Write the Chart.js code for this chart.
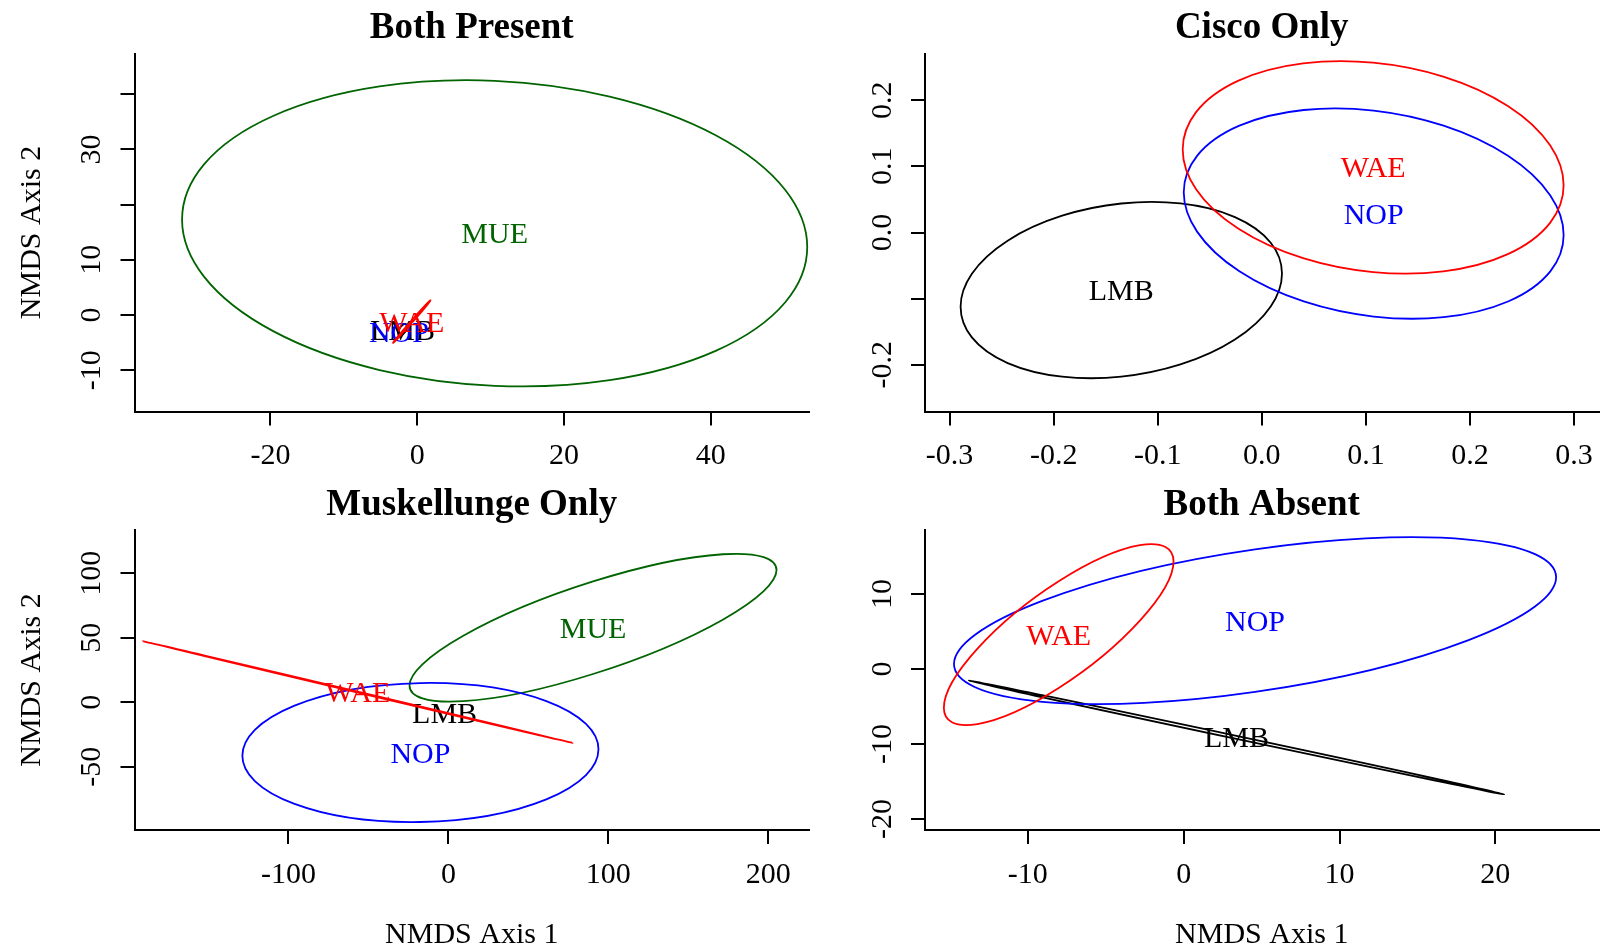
<!DOCTYPE html>
<html lang="en">
<head>
<meta charset="UTF-8" />
<title>NMDS ellipses by lake type</title>
<script src="https://cdn.jsdelivr.net/npm/chart.js"></script>
<style>
  body { margin: 0; background: #fff; }
  #wrap { position: relative; width: 1600px; height: 949px; overflow: hidden; background: #fff; }
  canvas { position: absolute; }
</style>
</head>
<body>
<div id="wrap">
  <canvas id="p1" width="812" height="474" style="left:0px;top:0px"></canvas>
  <canvas id="p2" width="788" height="474" style="left:812px;top:0px"></canvas>
  <canvas id="p3" width="812" height="475" style="left:0px;top:474px"></canvas>
  <canvas id="p4" width="788" height="475" style="left:812px;top:474px"></canvas>
</div>
<script>
  // ---- data (ellipse centre, half extents in x / y, correlation) ----

  // Both Present
  const bpSpecies = ["LMB", "MUE", "NOP", "WAE"];
  const bpCenterX = [-2.0, 10.55, -2.5, -0.75];
  const bpCenterY = [-2.7, 14.8, -3.0, -1.2];
  const bpHalfX = [0.6, 42.6, 0, 2.55];
  const bpHalfY = [1.1, 27.75, 0, 3.85];
  const bpCorr = [0.6, -0.09, 0, 0.998];
  const bpXTicks = [-20, 0, 20, 40];
  const bpXLabels = ["-20", "0", "20", "40"];
  const bpYTicks = [-10, 0, 10, 20, 30, 40];
  const bpYLabels = ["-10", "0", "10", "", "30", ""];

  // Cisco Only
  const coSpecies = ["LMB", "NOP", "WAE"];
  const coCenterX = [-0.135, 0.1075, 0.107];
  const coCenterY = [-0.087, 0.0286, 0.0984];
  const coHalfX = [0.1544, 0.1825, 0.183];
  const coHalfY = [0.1332, 0.1589, 0.1606];
  const coCorr = [0.189, -0.203, -0.169];
  const coXTicks = [-0.3, -0.2, -0.1, 0, 0.1, 0.2, 0.3];
  const coXLabels = ["-0.3", "-0.2", "-0.1", "0.0", "0.1", "0.2", "0.3"];
  const coYTicks = [-0.2, -0.1, 0, 0.1, 0.2];
  const coYLabels = ["-0.2", "", "0.0", "0.1", "0.2"];

  // Muskellunge Only (no LMB ellipse visible, only its label)
  const moSpecies = ["LMB", "MUE", "NOP", "WAE"];
  const moCenterX = [-2.4, 90.45, -17.5, -56.7];
  const moCenterY = [-8.6, 57.8, -39.0, 7.9];
  const moHalfX = [0, 114.75, 111.35, 134.4];
  const moHalfY = [0, 57.35, 53.95, 39.4];
  const moCorr = [0, 0.78, 0.046, -0.99995];
  const moXTicks = [-100, 0, 100, 200];
  const moXLabels = ["-100", "0", "100", "200"];
  const moYTicks = [-50, 0, 50, 100];
  const moYLabels = ["-50", "0", "50", "100"];

  // Both Absent
  const baSpecies = ["LMB", "NOP", "WAE"];
  const baCenterX = [3.39, 4.58, -8.02];
  const baCenterY = [-9.13, 6.44, 4.58];
  const baHalfX = [17.17, 19.32, 7.37];
  const baHalfY = [7.57, 11.13, 12.07];
  const baCorr = [-0.99964, 0.52, 0.808];
  const baXTicks = [-10, 0, 10, 20];
  const baXLabels = ["-10", "0", "10", "20"];
  const baYTicks = [-20, -10, 0, 10];
  const baYLabels = ["-20", "-10", "0", "10"];

  const axisTitleX = "NMDS Axis 1";
  const axisTitleY = "NMDS Axis 2";

  // ---- styling ----
  const serif = "'Liberation Serif', 'Times New Roman', Times, serif";
  const speciesColors = { LMB: "#000000", MUE: "#006400", NOP: "#0000ff", WAE: "#ff0000" };
  Chart.defaults.font.family = serif;
  Chart.defaults.color = "#000";

  function makePanel(id, p) {
    const datasets = p.species.map((sp, i) => ({
      label: sp,
      data: [{ x: p.cx[i], y: p.cy[i] }],
      pointRadius: 0,
      pointHoverRadius: 0,
      showLine: false
    }));

    const decor = {
      id: "rDecor",
      afterDatasetsDraw(chart) {
        const { ctx, chartArea: a } = chart;
        const xs = chart.scales.x, ys = chart.scales.y;
        p.species.forEach((sp, i) => {
          // ellipse, clipped to the plot region
          if (p.hx[i] > 0) {
            const px = xs.getPixelForValue(p.cx[i]);
            const py = ys.getPixelForValue(p.cy[i]);
            const r = p.r[i];
            const ux = xs.getPixelForValue(p.cx[i] + p.hx[i]) - px;
            const uy = ys.getPixelForValue(p.cy[i] + r * p.hy[i]) - py;
            const vy = ys.getPixelForValue(p.cy[i] + p.hy[i] * Math.sqrt(1 - r * r)) - py;
            ctx.save();
            ctx.beginPath();
            ctx.rect(a.left, a.top, a.right - a.left, a.bottom - a.top);
            ctx.clip();
            ctx.beginPath();
            ctx.save();
            ctx.transform(ux, uy, 0, vy, px, py);
            ctx.arc(0, 0, 1, 0, Math.PI * 2);
            ctx.restore();
            ctx.strokeStyle = speciesColors[sp];
            ctx.lineWidth = 1.8;
            ctx.stroke();
            ctx.restore();
          }
          // label at centroid
          const pt = chart.getDatasetMeta(i).data[0];
          ctx.save();
          ctx.font = "30px " + serif;
          ctx.textAlign = "center";
          ctx.textBaseline = "alphabetic";
          ctx.fillStyle = speciesColors[sp];
          ctx.fillText(sp, pt.x, pt.y + 10);
          ctx.restore();
        });
      },
      afterDraw(chart) {
        const { ctx, chartArea: a } = chart;
        const ys = chart.scales.y;
        ctx.save();
        ctx.fillStyle = "#000";
        ctx.textAlign = "center";
        ctx.textBaseline = "alphabetic";
        // main title
        ctx.font = "bold 37px " + serif;
        ctx.fillText(p.title, (a.left + a.right) / 2, a.top - 15.5);
        // rotated y tick labels (R las = 0)
        ctx.font = "30px " + serif;
        p.yTicks.forEach((v, i) => {
          if (!p.yLabels[i]) return;
          ctx.save();
          ctx.translate(a.left - 34.5, ys.getPixelForValue(v));
          ctx.rotate(-Math.PI / 2);
          ctx.fillText(p.yLabels[i], 0, 0);
          ctx.restore();
        });
        if (p.yTitle) {
          ctx.save();
          ctx.translate(a.left - 94.5, (a.top + a.bottom) / 2);
          ctx.rotate(-Math.PI / 2);
          ctx.fillText(p.yTitle, 0, 0);
          ctx.restore();
        }
        if (p.xTitle) {
          ctx.fillText(p.xTitle, (a.left + a.right) / 2, a.bottom + 113);
        }
        ctx.restore();
      }
    };

    const gridOpts = { drawOnChartArea: false, drawTicks: true, tickLength: 14, color: "#000", lineWidth: 2 };
    const borderOpts = { display: true, color: "#000", width: 2 };

    return new Chart(document.getElementById(id), {
      type: "scatter",
      data: { datasets },
      options: {
        responsive: false,
        animation: false,
        devicePixelRatio: 1,
        events: [],
        layout: { padding: p.pad },
        plugins: { legend: { display: false }, tooltip: { enabled: false }, title: { display: false } },
        scales: {
          x: {
            type: "linear", position: "bottom", bounds: "data",
            min: p.xRange[0], max: p.xRange[1],
            afterBuildTicks: s => { s.ticks = p.xTicks.map(v => ({ value: v })); },
            afterFit: s => { s.height = p.xAxisH; s.paddingLeft = 0; s.paddingRight = 0; },
            ticks: {
              autoSkip: false, maxRotation: 0, minRotation: 0, padding: 13,
              color: "#000", font: { size: 30, family: serif },
              callback: (v, i) => p.xLabels[i]
            },
            grid: gridOpts,
            border: borderOpts
          },
          y: {
            type: "linear", position: "left", bounds: "data",
            min: p.yRange[0], max: p.yRange[1],
            afterBuildTicks: s => { s.ticks = p.yTicks.map(v => ({ value: v })); },
            afterFit: s => { s.width = p.yAxisW; s.paddingTop = 0; s.paddingBottom = 0; },
            ticks: { display: false },
            grid: gridOpts,
            border: borderOpts
          }
        }
      },
      plugins: [decor]
    });
  }

  makePanel("p1", {
    title: "Both Present", yTitle: axisTitleY, xTitle: null,
    species: bpSpecies, cx: bpCenterX, cy: bpCenterY, hx: bpHalfX, hy: bpHalfY, r: bpCorr,
    xTicks: bpXTicks, xLabels: bpXLabels, yTicks: bpYTicks, yLabels: bpYLabels,
    xRange: [-38.53, 53.39], yRange: [-17.49, 47.39],
    pad: { left: 0, top: 53.5, right: 3, bottom: 0 }, yAxisW: 134.5, xAxisH: 62.5
  });

  makePanel("p2", {
    title: "Cisco Only", yTitle: null, xTitle: null,
    species: coSpecies, cx: coCenterX, cy: coCenterY, hx: coHalfX, hy: coHalfY, r: coCorr,
    xTicks: coXTicks, xLabels: coXLabels, yTicks: coYTicks, yLabels: coYLabels,
    xRange: [-0.3236, 0.3235], yRange: [-0.2705, 0.2705],
    pad: { left: 0, top: 53.5, right: 1.5, bottom: 0 }, yAxisW: 113, xAxisH: 62.5
  });

  makePanel("p3", {
    title: "Muskellunge Only", yTitle: axisTitleY, xTitle: axisTitleX,
    species: moSpecies, cx: moCenterX, cy: moCenterY, hx: moHalfX, hy: moHalfY, r: moCorr,
    xTicks: moXTicks, xLabels: moXLabels, yTicks: moYTicks, yLabels: moYLabels,
    xRange: [-196.3, 225.5], yRange: [-99.1, 133.6],
    pad: { left: 0, top: 56, right: 3, bottom: 0 }, yAxisW: 134.5, xAxisH: 119
  });

  makePanel("p4", {
    title: "Both Absent", yTitle: null, xTitle: axisTitleX,
    species: baSpecies, cx: baCenterX, cy: baCenterY, hx: baHalfX, hy: baHalfY, r: baCorr,
    xTicks: baXTicks, xLabels: baXLabels, yTicks: baYTicks, yLabels: baYLabels,
    xRange: [-16.6, 26.62], yRange: [-21.47, 18.53],
    pad: { left: 0, top: 56, right: 1.5, bottom: 0 }, yAxisW: 113, xAxisH: 119
  });
</script>
</body>
</html>
